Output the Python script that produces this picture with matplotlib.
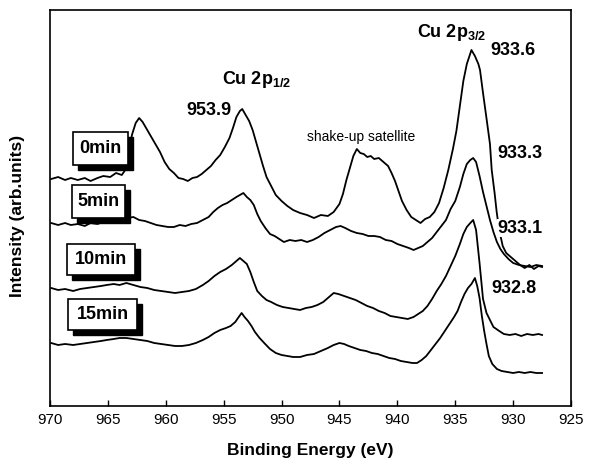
import matplotlib
matplotlib.use('Agg')
import matplotlib.pyplot as plt
from matplotlib.patches import Rectangle

plt.rcParams['font.family'] = ['Liberation Sans', 'DejaVu Sans']
plt.rcParams['mathtext.fontset'] = 'custom'
plt.rcParams['mathtext.rm'] = 'Liberation Sans:bold'
plt.rcParams['mathtext.bf'] = 'Liberation Sans:bold'
plt.rcParams['mathtext.default'] = 'rm'

# espectros (energia em eV, intensidade arbitraria)
e_0min = [969.9, 969.3, 968.7, 968.2, 967.6, 967.0, 966.5, 965.9, 965.4, 964.8,
          964.3, 963.8, 963.5, 963.3, 963.1, 962.9, 962.6, 962.3, 962.0, 961.7,
          961.3, 960.9, 960.5, 960.1, 959.7, 959.3, 958.9, 958.5, 958.1, 957.7,
          957.3, 956.9, 956.5, 956.1, 955.7, 955.3, 954.9, 954.5, 954.2, 953.9,
          953.6, 953.4, 953.1, 952.8, 952.5, 952.2, 951.9, 951.6, 951.3, 950.9,
          950.5, 950.0, 949.5, 949.0, 948.4, 947.8, 947.2, 946.6, 946.0, 945.5,
          945.0, 944.7, 944.4, 944.1, 943.8, 943.5, 943.2, 942.9, 942.6, 942.3,
          942.0, 941.6, 941.2, 940.8, 940.5, 940.2, 939.9, 939.6, 939.2, 938.8,
          938.4, 938.0, 937.6, 937.2, 936.8, 936.4, 936.0, 935.6, 935.2, 934.9,
          934.6, 934.3, 934.0, 933.8, 933.6, 933.3, 933.0, 932.86, 932.6, 932.28,
          932.0, 931.85, 931.6, 931.42, 931.2, 930.9, 930.6, 930.2, 929.8, 929.4,
          929.0, 928.6, 928.2, 927.8, 927.5]
i_0min = [227, 229, 226, 228, 226, 228, 225, 228, 230, 229,
          233, 231, 236, 248, 262, 272, 283, 288, 284, 278,
          270, 262, 254, 244, 237, 233, 228, 227, 225, 228,
          229, 232, 236, 240, 246, 251, 259, 268, 278, 289,
          295, 297, 291, 285, 276, 264, 252, 240, 229, 220,
          211, 205, 200, 196, 193, 191, 188, 191, 190, 194,
          202, 212, 226, 238, 250, 257, 253, 252, 249, 250,
          247, 248, 244, 240, 233, 225, 215, 205, 196, 189,
          186, 183, 187, 189, 194, 203, 218, 236, 257, 275,
          300, 325, 342, 349, 356, 350, 342, 336, 313, 286,
          262, 236, 213, 194, 176, 160, 153, 149, 145, 141,
          138, 141, 137, 140, 139]

e_5min = [969.9, 969.3, 968.7, 968.2, 967.6, 967.0, 966.5, 965.9, 965.4, 964.8,
          964.3, 963.8, 963.3, 962.8, 962.3, 961.8, 961.3, 960.8, 960.3, 959.8,
          959.3, 958.8, 958.3, 957.8, 957.3, 956.8, 956.3, 955.9, 955.5, 955.1,
          954.7, 954.3, 953.9, 953.6, 953.3, 953.0, 952.7, 952.4, 952.1, 951.8,
          951.4, 951.0, 950.6, 950.2, 949.8, 949.3, 948.8, 948.3, 947.8, 947.3,
          946.8, 946.3, 945.8, 945.3, 944.9, 944.5, 944.0, 943.5, 943.0, 942.5,
          942.0, 941.5, 941.0, 940.5, 940.0, 939.5, 939.0, 938.6, 938.2, 937.8,
          937.4, 937.0, 936.6, 936.2, 935.8, 935.4, 935.0, 934.6, 934.3, 934.0,
          933.7, 933.45, 933.2, 932.9, 932.6, 932.3, 932.0, 931.7, 931.4, 931.1,
          930.8, 930.4, 930.0, 929.5, 929.0, 928.5, 928.0, 927.5]
i_5min = [183, 181, 183, 181, 182, 180, 183, 182, 184, 183,
          186, 185, 188, 189, 186, 185, 183, 181, 180, 179,
          179, 181, 180, 182, 183, 186, 189, 194, 198, 201,
          203, 206, 209, 211, 213, 209, 206, 201, 192, 185,
          178, 172, 170, 167, 164, 166, 165, 166, 164, 166,
          169, 173, 176, 179, 180, 178, 175, 173, 172, 170,
          170, 169, 166, 165, 162, 160, 158, 156, 158, 160,
          164, 168, 174, 180, 186, 197, 205, 219, 232, 242,
          246, 248, 244, 230, 214, 200, 186, 174, 164, 157,
          152, 147, 143, 141, 140, 139, 141, 140]

e_10min = [969.9, 969.3, 968.7, 968.0, 967.4, 966.8, 966.2, 965.6, 965.1, 964.5,
           964.0, 963.4, 962.8, 962.2, 961.6, 961.0, 960.4, 959.8, 959.2, 958.6,
           958.0, 957.4, 956.8, 956.3, 955.8, 955.3, 954.8, 954.3, 953.9, 953.6,
           953.3, 953.0, 952.7, 952.4, 952.1, 951.7, 951.3, 950.9, 950.4, 949.9,
           949.4, 948.9, 948.4, 947.9, 947.4, 946.9, 946.4, 945.9, 945.5, 945.1,
           944.6, 944.1, 943.6, 943.1, 942.6, 942.1, 941.6, 941.1, 940.6, 940.1,
           939.6, 939.1, 938.6, 938.2, 937.8, 937.4, 937.0, 936.6, 936.2, 935.8,
           935.4, 935.0, 934.6, 934.3, 934.0, 933.7, 933.45, 933.2, 932.9, 932.6,
           932.3, 932.0, 931.7, 931.2, 930.8, 930.3, 929.8, 929.3, 928.8, 928.3,
           927.8, 927.5]
i_10min = [118, 116, 117, 115, 117, 118, 119, 120, 121, 122,
           121, 123, 121, 119, 118, 116, 115, 114, 113, 114,
           115, 117, 121, 125, 130, 134, 137, 141, 145, 148,
           145, 142, 134, 124, 115, 110, 106, 104, 101, 99,
           98, 97, 96, 98, 99, 101, 104, 109, 113, 112,
           110, 108, 106, 103, 100, 98, 95, 93, 90, 89,
           88, 87, 89, 92, 95, 100, 107, 115, 122, 130,
           140, 150, 162, 172, 179, 183, 186, 176, 143, 107,
           93, 86, 79, 75, 72, 71, 72, 70, 72, 71,
           72, 71]

e_15min = [969.9, 969.3, 968.7, 968.0, 967.4, 966.8, 966.2, 965.6, 965.1, 964.5,
           964.0, 963.4, 962.8, 962.2, 961.6, 961.0, 960.4, 959.8, 959.2, 958.6,
           958.0, 957.4, 956.8, 956.3, 955.8, 955.3, 954.8, 954.4, 954.0, 953.7,
           953.45, 953.2, 952.9, 952.6, 952.3, 951.9, 951.5, 951.0, 950.5, 950.0,
           949.5, 949.0, 948.4, 947.8, 947.2, 946.6, 946.0, 945.5, 945.0, 944.6,
           944.2, 943.7, 943.2, 942.7, 942.2, 941.7, 941.2, 940.7, 940.2, 939.7,
           939.2, 938.7, 938.3, 937.9, 937.5, 937.1, 936.7, 936.3, 935.9, 935.5,
           935.1, 934.8, 934.5, 934.2, 933.9, 933.6, 933.3, 933.1, 932.9, 932.7,
           932.5, 932.3, 932.1, 931.8, 931.4, 931.0, 930.5, 930.0, 929.5, 929.0,
           928.5, 928.0, 927.5]
i_15min = [63, 61, 62, 61, 62, 63, 64, 65, 66, 67,
           68, 68, 67, 66, 65, 63, 62, 61, 60, 60,
           61, 63, 66, 69, 73, 76, 78, 80, 84, 89,
           93, 89, 85, 80, 74, 68, 63, 57, 53, 51,
           50, 49, 49, 51, 52, 55, 58, 61, 63, 62,
           60, 58, 56, 55, 53, 52, 50, 48, 47, 45,
           44, 43, 43, 46, 50, 56, 62, 68, 75, 82,
           89, 95, 104, 112, 118, 122, 128, 120, 108, 90,
           75, 62, 50, 42, 37, 35, 34, 33, 34, 33,
           34, 33, 33]

amostras = ['0min', '5min', '10min', '15min']
picos = ['933.6', '933.3', '933.1', '932.8']

fig = plt.figure(figsize=(5.94, 4.68), dpi=100)
ax = fig.add_axes([0.0842, 0.1325, 0.8771, 0.8461])

for e, i in [(e_0min, i_0min), (e_5min, i_5min), (e_10min, i_10min), (e_15min, i_15min)]:
    ax.plot(e, i, color='black', lw=1.3, zorder=2)

ax.set_xlim(970, 925)
ax.set_ylim(0, 396)
ax.set_xticks(range(970, 924, -5))
ax.set_yticks([])
ax.tick_params(axis='x', direction='in', length=4, width=1, labelsize=11, pad=5)
for s in ax.spines.values():
    s.set_linewidth(1.2)

ax.set_xlabel('Binding Energy (eV)', fontsize=12.5, fontweight='bold')
ax.xaxis.set_label_coords(0.5, -0.093)
ax.set_ylabel('Intensity (arb.units)', fontsize=12.5, fontweight='bold')
ax.yaxis.set_label_coords(-0.048, 0.48)

# caixas com sombra
caixas = [(0.0447, 0.6086, 0.1056, 0.0833), (0.0417, 0.474, 0.1023, 0.0841),
          (0.0321, 0.3308, 0.1311, 0.0783), (0.0351, 0.1919, 0.1313, 0.0775)]
for nome, (x0, y0, w, h) in zip(amostras, caixas):
    ax.add_patch(Rectangle((x0 + 0.0096, y0 - 0.0126), w, h, transform=ax.transAxes,
                           fc='black', ec='black', zorder=4))
    ax.add_patch(Rectangle((x0, y0), w, h, transform=ax.transAxes,
                           fc='white', ec='black', lw=1.2, zorder=5))
    ax.text(x0 + w / 2, y0 + h / 2, nome, transform=ax.transAxes, ha='center', va='center',
            fontsize=13, fontweight='bold', zorder=6)

# rotulos dos picos
pos_picos = [(930.01, 356), (929.41, 253), (929.41, 178), (929.92, 117)]
for txt, (x, y) in zip(picos, pos_picos):
    ax.text(x, y, txt, ha='center', va='center', fontsize=13, fontweight='bold',
            zorder=6, bbox=dict(fc='white', ec='none', pad=0.5))

ax.text(938.3, 374, r'Cu 2p$_{3/2}$', ha='left', va='center', fontsize=13,
        fontweight='bold', zorder=6)
ax.text(955.14, 327, r'Cu 2p$_{1/2}$', ha='left', va='center', fontsize=13,
        fontweight='bold', zorder=6)
ax.text(956.27, 296, '953.9', ha='center', va='center', fontsize=13, fontweight='bold',
        zorder=6, bbox=dict(fc='white', ec='none', pad=0.5))
ax.text(943.14, 269, 'shake-up satellite', ha='center', va='center', fontsize=10, zorder=6)

fig.savefig('out.png', dpi=100)
